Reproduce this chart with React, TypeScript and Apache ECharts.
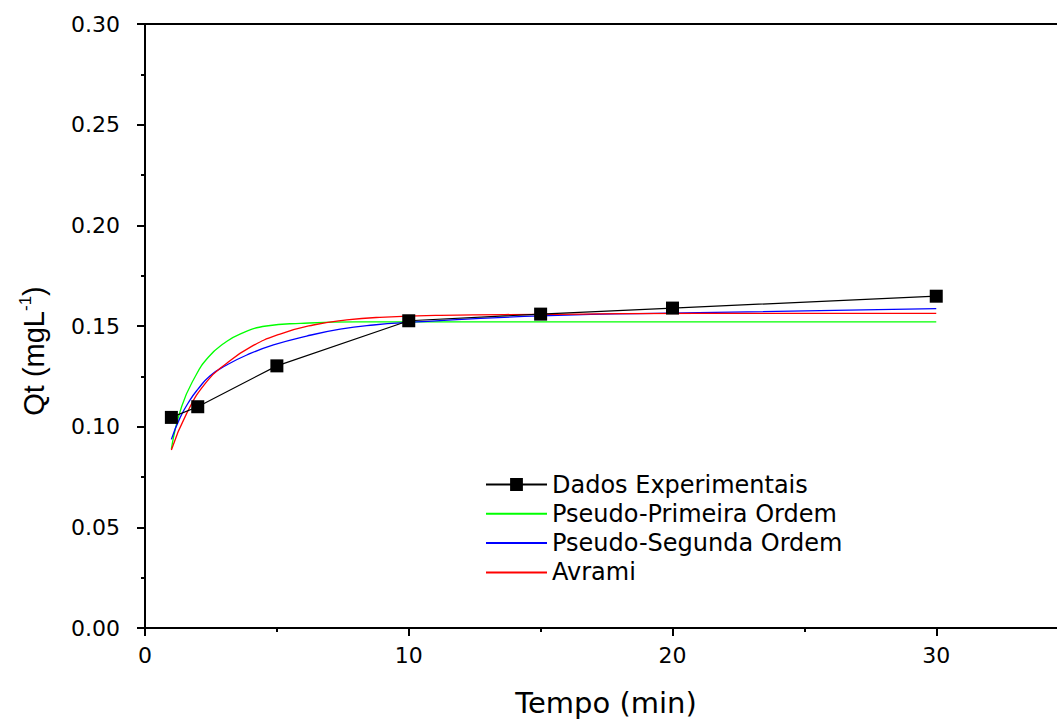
import React, { useEffect, useRef } from "react";
import * as echarts from "echarts";

const expT = [1, 2, 5, 10, 15, 20, 30];
const expQ = [0.1046, 0.1099, 0.1302, 0.1526, 0.1559, 0.1589, 0.1648];

const pfoT = [1, 1.39, 1.9, 2.4, 3.0, 3.6, 4.6, 5.9, 8, 10, 15, 20, 30];
const pfoQ = [0.089, 0.11, 0.1248, 0.1345, 0.1414, 0.146, 0.150, 0.1513, 0.152, 0.152, 0.152, 0.152, 0.152];

const psoT = [1, 1.33, 1.71, 2.0, 2.46, 3.1, 3.86, 4.87, 6.13, 7.4, 8.66, 9.9, 15, 21, 30];
const psoQ = [0.0937, 0.1045, 0.1133, 0.1185, 0.1252, 0.1306, 0.1356, 0.1406, 0.145, 0.1484, 0.1505, 0.1517, 0.155, 0.1566, 0.1586];

const avrT = [1, 1.58, 2.34, 3.1, 3.98, 5.12, 6.38, 7.65, 8.9, 11.2, 15, 21, 30];
const avrQ = [0.0884, 0.1066, 0.1224, 0.1315, 0.1394, 0.146, 0.1505, 0.153, 0.1543, 0.1553, 0.1558, 0.1563, 0.1563];

const seriesNames = [
  "Dados Experimentais",
  "Pseudo-Primeira Ordem",
  "Pseudo-Segunda Ordem",
  "Avrami",
];

const xTicks = [0, 10, 20, 30];
const xTitle = "Tempo (min)";
const yTitle = "Qt (mgL{sup|-1})";

const zip = (a: number[], b: number[]) => a.map((v, i) => [v, b[i]]);

const FONT = "DejaVu Sans, sans-serif";
const FONT_Y = "Liberation Sans, Arial, sans-serif";

export default function App() {
  const ref = useRef<HTMLDivElement>(null);
  useEffect(() => {
    document.body.style.margin = "0";
    const chart = echarts.init(ref.current!, null, { renderer: "svg" });
    const axisLine = { show: true, lineStyle: { color: "#000", width: 2 } };
    const curve = (name: string, t: number[], q: number[], color: string) => ({
      name,
      type: "line",
      data: zip(t, q),
      symbol: "none",
      showSymbol: false,
      smooth: 0.5,
      itemStyle: { color },
      lineStyle: { color, width: 1.3 },
    });
    chart.setOption({
      animation: false,
      backgroundColor: "#fff",
      grid: {
        left: 145,
        top: 24,
        width: 1055,
        height: 604,
        containLabel: false,
        outerBoundsMode: "none",
      },
      legend: {
        orient: "vertical",
        left: 480,
        top: 467,
        itemWidth: 61,
        itemHeight: 16,
        itemGap: 4.3,
        data: seriesNames.map((n, i) =>
          i === 0 ? { name: n } : { name: n, itemStyle: { opacity: 0 } }
        ),
        textStyle: { fontFamily: FONT, fontSize: 24, color: "#000", lineHeight: 25 },
      },
      graphic: [
        {
          type: "text",
          x: 606,
          y: 703,
          style: {
            text: xTitle,
            fontFamily: FONT,
            fontSize: 29,
            fill: "#000",
            align: "center",
            verticalAlign: "middle",
          },
        },
        {
          type: "text",
          x: 34,
          y: 351,
          rotation: Math.PI / 2,
          style: {
            text: yTitle,
            fontFamily: FONT_Y,
            fontSize: 29,
            fill: "#000",
            align: "center",
            verticalAlign: "middle",
            rich: {
              sup: { fontFamily: FONT_Y, fontSize: 17, fill: "#000", verticalAlign: "top", lineHeight: 34 },
            },
          },
        },
      ],
      xAxis: [
        {
          type: "value",
          min: 0,
          max: 40,
          interval: 10,
          axisLine,
          axisTick: { show: true, inside: false, length: 8, lineStyle: { width: 2, color: "#000" } },
          minorTick: { show: true, splitNumber: 2, length: 4, lineStyle: { width: 2, color: "#000" } },
          splitLine: { show: false },
          axisLabel: {
            margin: 16,
            fontFamily: FONT,
            fontSize: 22,
            color: "#000",
            formatter: (v: number) => (xTicks.includes(v) ? String(v) : ""),
          },
        },
        {
          type: "value",
          position: "top",
          min: 0,
          max: 40,
          axisLine,
          axisTick: { show: false },
          axisLabel: { show: false },
          splitLine: { show: false },
        },
      ],
      yAxis: {
        type: "value",
        min: 0,
        max: 0.3,
        interval: 0.05,
        axisLine,
        axisTick: { show: true, inside: false, length: 8, lineStyle: { width: 2, color: "#000" } },
        minorTick: { show: true, splitNumber: 2, length: 4, lineStyle: { width: 2, color: "#000" } },
        splitLine: { show: false },
        axisLabel: {
          margin: 25,
          fontFamily: FONT,
          fontSize: 22,
          color: "#000",
          formatter: (v: number) => v.toFixed(2),
        },
      },
      series: [
        {
          name: seriesNames[0],
          type: "line",
          data: zip(expT, expQ),
          symbol: "rect",
          symbolSize: 13,
          itemStyle: { color: "#000" },
          lineStyle: { color: "#000", width: 1.2 },
          z: 5,
        },
        curve(seriesNames[1], pfoT, pfoQ, "#00ff00"),
        curve(seriesNames[2], psoT, psoQ, "#0000ff"),
        curve(seriesNames[3], avrT, avrQ, "#ff0000"),
      ],
    });
    return () => chart.dispose();
  }, []);
  return (
    <div style={{ position: "fixed", left: 0, top: 0, width: 1057, height: 719, overflow: "hidden", background: "#fff" }}>
      <div ref={ref} style={{ width: 1220, height: 719 }} />
    </div>
  );
}
